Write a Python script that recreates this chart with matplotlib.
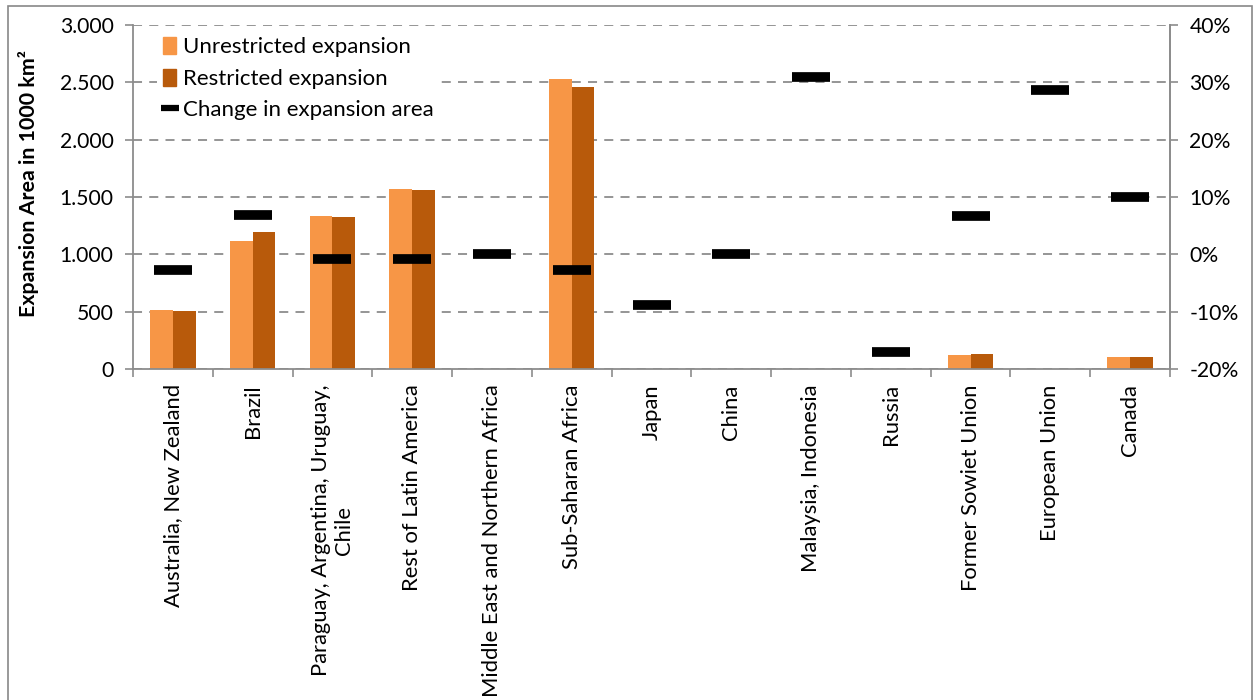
import matplotlib
matplotlib.use("Agg")
import matplotlib.pyplot as plt
from matplotlib.patches import Rectangle
from matplotlib.lines import Line2D
from matplotlib.ticker import FuncFormatter, FixedLocator
import numpy as np

plt.rcParams['font.family'] = ['Lato', 'DejaVu Sans']

regions = [
    "Australia, New Zealand",
    "Brazil",
    "Paraguay, Argentina, Uruguay,\nChile",
    "Rest of Latin America",
    "Middle East and Northern Africa",
    "Sub-Saharan Africa",
    "Japan",
    "China",
    "Malaysia, Indonesia",
    "Russia",
    "Former Sowiet Union",
    "European Union",
    "Canada",
]
unrestricted = [517, 1120, 1335, 1570, 0, 2530, 0, 0, 0, 0, 125, 0, 101]
restricted = [505, 1195, 1325, 1560, 0, 2460, 0, 0, 0, 0, 133, 0, 106]
change_pct = [-2.8, 6.8, -0.9, -0.9, 0.0, -2.8, -8.9, 0.0, 30.9, -17.0, 6.7, 28.6, 10.0]

left_ticks = [0, 500, 1000, 1500, 2000, 2500, 3000]
right_ticks = [-20, -10, 0, 10, 20, 30, 40]

c_unres = "#F79646"
c_res = "#B85A0B"
grey = "#8C8C8C"

fig = plt.figure(figsize=(12.55, 7.0), dpi=100)
fig.patches.append(Rectangle((8 / 1255, -0.01), 1244 / 1255, 1.0 - 6 / 700 + 0.01,
                             transform=fig.transFigure, fill=False,
                             edgecolor="#888888", linewidth=1.2))

ax = fig.add_axes([133 / 1255, 1 - 369 / 700, (1170 - 133) / 1255, (369 - 25) / 700])
x = np.arange(len(regions))
w = 0.285
ax.bar(x - w / 2, unrestricted, w, color=c_unres, zorder=2)
ax.bar(x + w / 2, restricted, w, color=c_res, zorder=2)

ax.set_xlim(-0.5, len(regions) - 0.5)
ax.set_ylim(0, 3000)
ax.yaxis.set_major_locator(FixedLocator(left_ticks))
ax.yaxis.set_major_formatter(FuncFormatter(lambda v, p: f"{int(v):,}".replace(",", ".")))
ax.grid(axis='y', color=grey, linestyle=(0, (5, 4)), linewidth=1.3, zorder=0)
ax.set_axisbelow(True)

ax.set_xticks(x)
ax.set_xticklabels(regions, rotation=90, ha='center', va='top',
                   multialignment='center', fontsize=15.8)
ax.xaxis.set_minor_locator(FixedLocator(np.arange(-0.5, len(regions), 1.0)))
ax.tick_params(axis='x', which='major', length=0, pad=11)
ax.tick_params(axis='x', which='minor', length=6, color=grey, width=1.2, direction='out')
ax.tick_params(axis='y', length=6, color=grey, width=1.2, labelsize=15.2, pad=8)

ax.spines['top'].set_visible(False)
for s in ['left', 'bottom', 'right']:
    ax.spines[s].set_color(grey)
    ax.spines[s].set_linewidth(1.3)

ax.set_ylabel("Expansion Area in 1000 km²", fontsize=15.4, fontweight='bold')
ax.yaxis.set_label_coords(-0.091, 0.54)

ax2 = ax.twinx()
ax2.set_ylim(-20, 40)
ax2.yaxis.set_major_locator(FixedLocator(right_ticks))
ax2.yaxis.set_major_formatter(FuncFormatter(lambda v, p: f"{int(v)}%"))
ax2.tick_params(axis='y', length=6, color=grey, width=1.2, labelsize=15.2, pad=8)
for s in ['top', 'left', 'bottom']:
    ax2.spines[s].set_visible(False)
ax2.spines['right'].set_color(grey)
ax2.spines['right'].set_linewidth(1.3)

ax2.plot(x, change_pct, linestyle='none', marker='_', markersize=28,
         markeredgewidth=7, color='black', zorder=3)

handles = [
    Rectangle((0, 0), 1, 1, color=c_unres),
    Rectangle((0, 0), 1, 1, color=c_res),
    Line2D([], [], linestyle='none', marker='_', markersize=13, markeredgewidth=4.5, color='black'),
]
labels = ["Unrestricted expansion", "Restricted expansion", "Change in expansion area"]
leg = ax2.legend(handles, labels, loc='upper left', bbox_to_anchor=(0.017, 1.0),
                 frameon=True, fontsize=16, handlelength=0.6, handleheight=0.8,
                 handletextpad=0.3, labelspacing=0.5, borderpad=0.25, borderaxespad=0.3)
leg.get_frame().set_facecolor('white')
leg.get_frame().set_edgecolor('none')
leg.get_frame().set_alpha(1.0)

fig.savefig("out.png", dpi=100)
